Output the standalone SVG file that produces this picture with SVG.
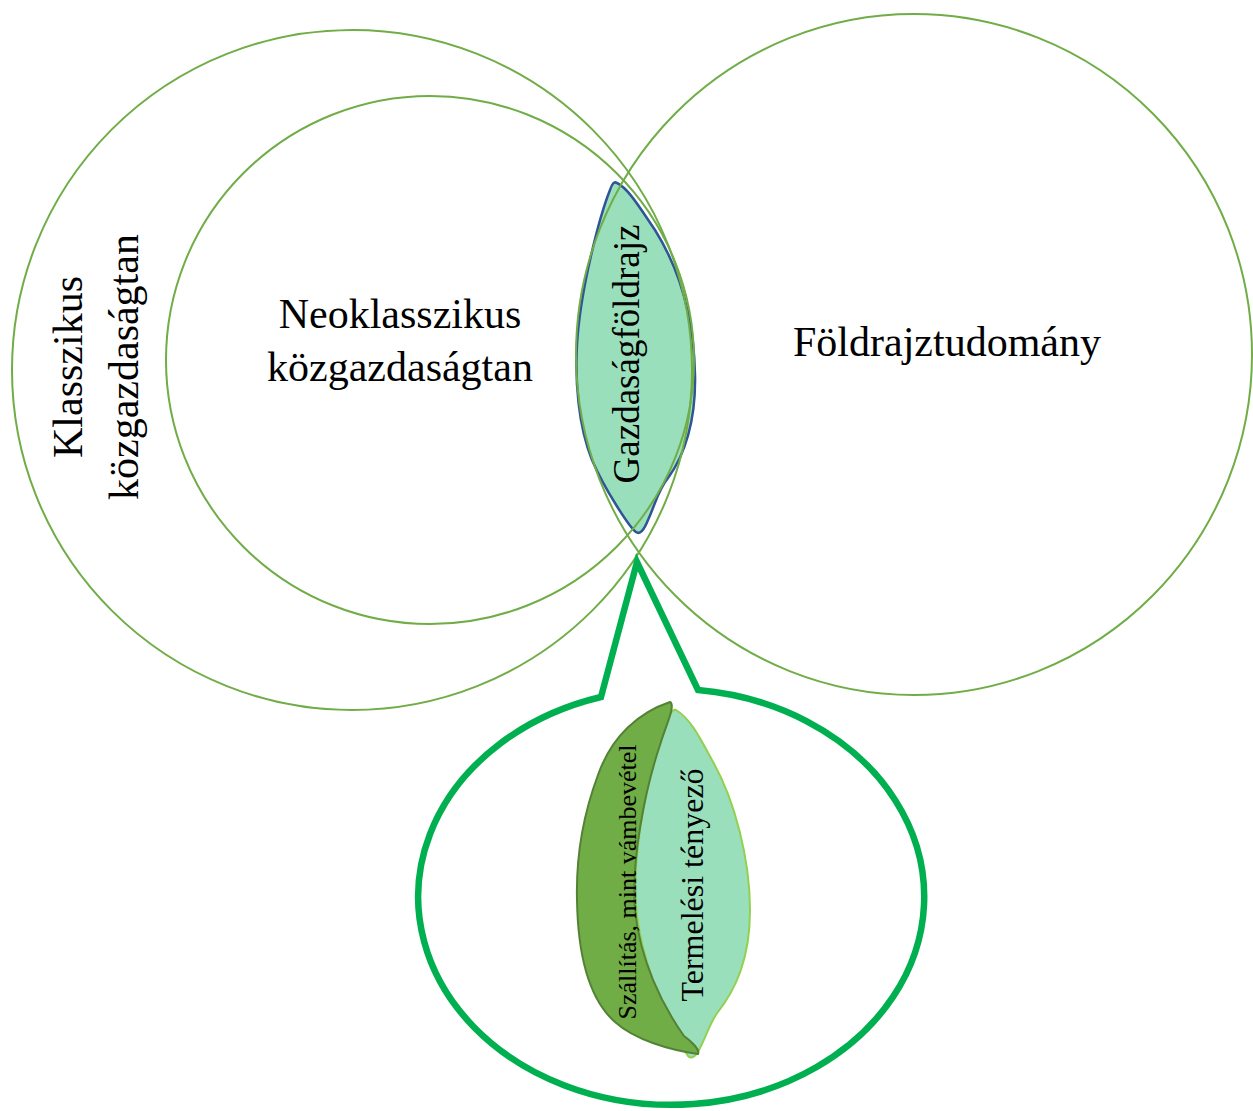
<svg xmlns="http://www.w3.org/2000/svg" width="1253" height="1111" viewBox="0 0 1253 1111">
<style>
.circ{fill:none;stroke:#70AD47;stroke-width:2}
.t{font-family:"Liberation Serif","Times New Roman",serif;fill:#000;text-anchor:middle}
</style>
<rect width="1253" height="1111" fill="#fff"/>
<g id="gazdasagfoldrajz-leaf">
<path d="M617,183 C628,188 640,208 655,230 C680,270 694,320 695,375 C696,420 685,455 668,478 C658,490 655,505 648,520 C644,530 640,535 636,532 C630,528 605,490 592,460 C578,425 575,380 577,345 C580,290 600,215 610,190 C612,184 614,181 617,183 Z" fill="#9ADFBB" stroke="#2F5597" stroke-width="2.5"/>
</g>
<g id="klasszikus">
<circle class="circ" cx="352" cy="370" r="340"/>
<text class="t" font-size="42" transform="translate(82,367) rotate(-90)">Klasszikus</text>
<text class="t" font-size="42" transform="translate(138,367) rotate(-90)">közgazdaságtan</text>
</g>
<g id="neoklasszikus">
<circle class="circ" cx="430" cy="360" r="264"/>
<text class="t" font-size="42" x="400" y="328">Neoklasszikus</text>
<text class="t" font-size="42" x="400" y="381">közgazdaságtan</text>
</g>
<g id="foldrajztudomany">
<ellipse class="circ" cx="914" cy="354.5" rx="338" ry="340.5"/>
<text class="t" font-size="42" x="947" y="356">Földrajztudomány</text>
</g>
<g id="gazdasagfoldrajz-label">
<text class="t" font-size="37" transform="translate(639,354) rotate(-90)">Gazdaságföldrajz</text>
</g>
<g id="connectors">
<path id="callout" d="M601,697 L637,562 L698,690 A253,208 0 1 1 601,697 Z" fill="none" stroke="#00B050" stroke-width="6.5" stroke-linejoin="miter"/>
</g>
<g id="termelesi-teny">
<path d="M676,710 C690,718 700,738 712,760 C735,800 750,860 750,910 C750,960 735,990 718,1012 C710,1022 707,1035 700,1048 C696,1056 692,1060 688,1056 C670,1030 640,960 636,905 C632,850 650,760 668,720 C670,713 672,709 676,710 Z" fill="#9ADFBB" stroke="#92D050" stroke-width="2"/>
</g>
<g id="szallitas">
<path d="M670,702 C640,712 612,735 598,775 C583,815 576,860 577,900 C578,960 590,1000 615,1022 C635,1040 670,1050 698,1054 C700,1050 692,1042 684,1036 C662,1005 640,960 635,910 C631,860 645,790 660,745 C666,725 676,705 670,702 Z" fill="#70AD47" stroke="#548235" stroke-width="2"/>
<text class="t" font-size="26" transform="translate(636,882) rotate(-90)">Szállítás, mint vámbevétel</text>
</g>
<g id="termelesi-label">
<text class="t" font-size="32" transform="translate(703,885) rotate(-90)">Termelési tényező</text>
</g>
</svg>
